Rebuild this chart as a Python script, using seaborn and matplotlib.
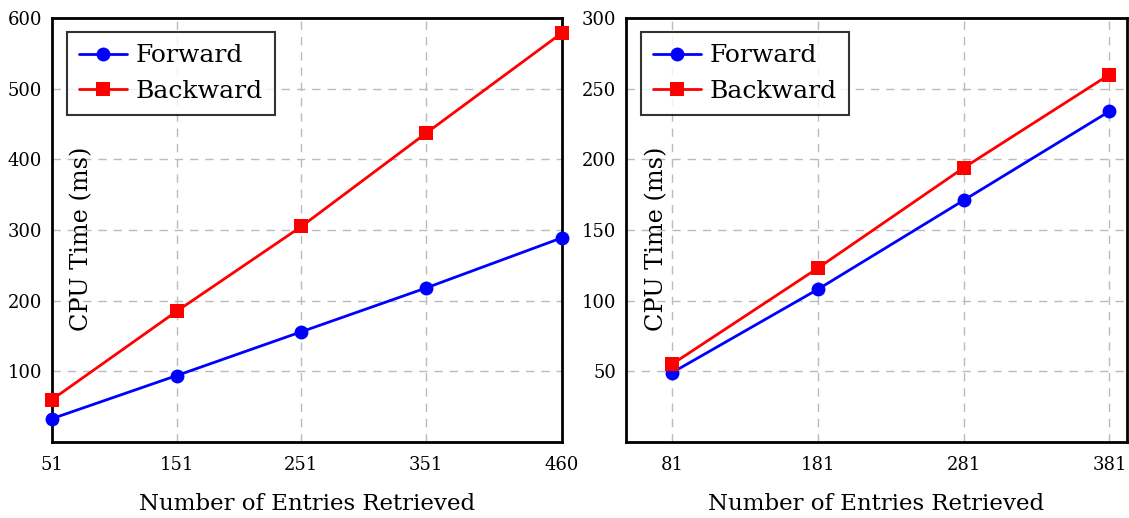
import matplotlib
matplotlib.use("Agg")
import matplotlib.pyplot as plt
import pandas as pd
import seaborn as sns

# left panel
left_entries = [51, 151, 251, 351, 460]
left_forward = [33, 94, 156, 218, 289]
left_backward = [60, 185, 305, 437, 579]

# right panel
right_entries = [81, 181, 281, 381]
right_forward = [49, 108, 171, 234]
right_backward = [55, 123, 194, 260]

left_yticks = [100, 200, 300, 400, 500, 600]
right_yticks = [50, 100, 150, 200, 250, 300]

SERIES = ["Forward", "Backward"]
COLORS = {"Forward": "#0000ff", "Backward": "#ff0000"}
MARKERS = {"Forward": "o", "Backward": "s"}

sns.set_theme(style="white")
plt.rcParams["font.family"] = ["DejaVu Serif"]
plt.rcParams["text.color"] = "black"
plt.rcParams["axes.labelcolor"] = "black"


def make_df(x, fwd, bwd):
    return pd.concat([
        pd.DataFrame({"x": x, "y": fwd, "series": "Forward"}),
        pd.DataFrame({"x": x, "y": bwd, "series": "Backward"}),
    ], ignore_index=True)


def draw(ax, df, xticks, yticks, xlim, ylim, ylab_x):
    sns.lineplot(data=df, x="x", y="y", hue="series", style="series",
                 hue_order=SERIES, style_order=SERIES,
                 palette=COLORS, markers=MARKERS, dashes=False,
                 linewidth=2, markersize=10, markeredgewidth=0, ax=ax)
    # let the end markers sit over the frame, like pgfplots does
    for ln in ax.lines:
        ln.set_clip_on(False)
        ln.set_zorder(5)
    ax.set_xlim(*xlim)
    ax.set_ylim(*ylim)
    ax.set_xticks(xticks)
    ax.set_xticklabels([str(v) for v in xticks])
    ax.set_yticks(yticks)
    ax.grid(True, color="#bbbbbb", linestyle=(0, (6, 5)), linewidth=1)
    ax.tick_params(length=0, labelsize=13, colors="black")
    ax.tick_params(axis="x", pad=10)
    ax.tick_params(axis="y", pad=7)
    for s in ax.spines.values():
        s.set_color("black")
        s.set_linewidth(2)
    ax.set_xlabel("Number of Entries Retrieved", fontsize=16.5, labelpad=14)
    ax.set_ylabel("")
    ax.text(ylab_x, 0.479, "CPU Time (ms)", transform=ax.transAxes,
            rotation=90, ha="center", va="center", fontsize=17.3)
    leg = ax.legend(loc="upper left", fontsize=18, frameon=True, fancybox=False,
                    edgecolor="black", borderpad=0.5, handlelength=1.9,
                    handletextpad=0.35, labelspacing=0.5,
                    bbox_to_anchor=(0.029, 0.967), borderaxespad=0)
    leg.get_frame().set_linewidth(1.5)
    leg.set_zorder(10)


fig = plt.figure(figsize=(11.29, 5.18), dpi=100)
W, H = 1129, 518
ax1 = fig.add_axes([52 / W, (H - 442) / H, (562 - 52) / W, (442 - 18) / H])
ax2 = fig.add_axes([626 / W, (H - 442) / H, (1127 - 626) / W, (442 - 18) / H])

draw(ax1, make_df(left_entries, left_forward, left_backward),
     left_entries, left_yticks, (51, 460), (0, 600), 0.059)
draw(ax2, make_df(right_entries, right_forward, right_backward),
     right_entries, right_yticks, (49.5, 393), (0, 300), 0.062)

fig.savefig("out.png", dpi=100)
